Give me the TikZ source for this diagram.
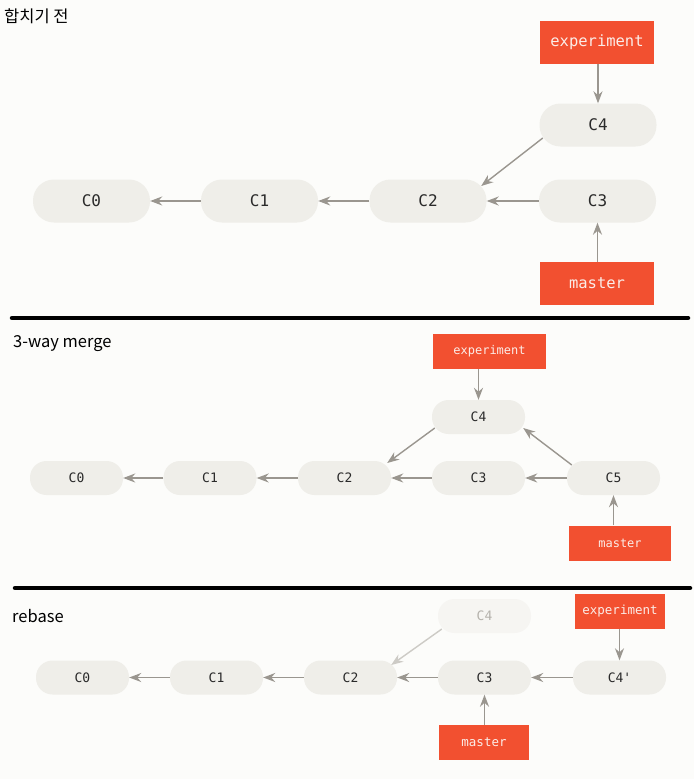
\documentclass[tikz,border=0pt]{standalone}
\usepackage{fontspec}
\setmonofont{DejaVu Sans Mono}
\newfontfamily\kr{Noto Sans CJK KR}
\usetikzlibrary{arrows.meta}
\definecolor{cfill}{HTML}{EFEEE9}
\definecolor{cfade}{HTML}{F6F5F2}
\definecolor{gred}{HTML}{F25030}
\definecolor{arr}{HTML}{9A968F}
\definecolor{arrfade}{HTML}{CDCBC6}
\definecolor{ctext}{HTML}{2A2A2A}
\definecolor{cfadetext}{HTML}{B5B2AC}
\definecolor{labtext}{HTML}{FBEDE8}
\definecolor{bg}{HTML}{FCFCFA}
\begin{document}
\begin{tikzpicture}[x=1pt,y=-1pt,
  commitA/.style={rectangle,rounded corners=21pt,fill=cfill,minimum width=117pt,minimum height=43pt,inner sep=0pt,text=ctext,font=\ttfamily\fontsize{16}{18}\selectfont},
  commitB/.style={rectangle,rounded corners=16.5pt,fill=cfill,minimum width=93pt,minimum height=34pt,inner sep=0pt,text=ctext,font=\ttfamily\fontsize{13}{15}\selectfont},
  fadedB/.style={commitB,fill=cfade,text=cfadetext},
  labelA/.style={rectangle,fill=gred,text=labtext,minimum width=114pt,minimum height=43pt,inner sep=0pt,font=\ttfamily\fontsize{15.5}{18}\selectfont},
  labelB/.style={rectangle,fill=gred,text=labtext,minimum height=35pt,inner sep=0pt,font=\ttfamily\fontsize{12}{15}\selectfont},
  conn/.style={draw=arr,line width=1.4pt,-{Stealth[length=12pt,width=9pt]}},
  connfade/.style={conn,draw=arrfade},
  sep/.style={line width=4.5pt,line cap=round,black},
  title/.style={anchor=west,inner sep=0pt,text=black,font=\kr\fontsize{16.5}{19}\selectfont}
]
\fill[bg] (0,0) rectangle (694,779);
\useasboundingbox (0,0) rectangle (694,779);

% ---------- panel 1 ----------
\node[title] (t1) at (4,16) {합치기 전};
\node[commitA] (C0a) at (91.5,201) {C0};
\node[commitA] (C1a) at (259.5,201) {C1};
\node[commitA] (C2a) at (428,201) {C2};
\node[commitA] (C3a) at (597.5,201) {C3};
\node[commitA] (C4a) at (598,125) {C4};
\node[labelA] (expa) at (597,42) {experiment};
\node[labelA] (masa) at (597,283.5) {master};
\draw[conn] (C1a) -- (C0a);
\draw[conn] (C2a) -- (C1a);
\draw[conn] (C3a) -- (C2a);
\draw[conn] ([shift={(3.5,13)}]C4a.west) -- ([shift={(-5.5,-15)}]C2a.east);
\draw[conn] (expa.south -| C4a) -- (C4a.north);
\draw[conn] (masa.north -| C3a) -- (C3a.south);

\draw[sep] (12,318) -- (688,318);

% ---------- panel 2 ----------
\node[title] (t2) at (13,344) {3-way merge};
\node[commitB] (C0b) at (76.5,478) {C0};
\node[commitB] (C1b) at (210,478) {C1};
\node[commitB] (C2b) at (344.5,478) {C2};
\node[commitB] (C3b) at (478.5,478) {C3};
\node[commitB] (C5b) at (613.5,478) {C5};
\node[commitB] (C4b) at (478.5,417) {C4};
\node[labelB,minimum width=113pt] (expb) at (489.5,351.5) {experiment};
\node[labelB,minimum width=102pt] (masb) at (620,543) {master};
\draw[conn] (C1b) -- (C0b);
\draw[conn] (C2b) -- (C1b);
\draw[conn] (C3b) -- (C2b);
\draw[conn] (C5b) -- (C3b);
\draw[conn] ([shift={(3,11)}]C4b.west) -- ([shift={(-4,-15)}]C2b.east);
\draw[conn] ([shift={(5,-13)}]C5b.west) -- ([shift={(-2,11)}]C4b.east);
\draw[conn] (expb.south -| C4b) -- (C4b.north);
\draw[conn] (masb.north -| C5b) -- (C5b.south);

\draw[sep] (15,588) -- (690,588);

% ---------- panel 3 ----------
\node[title] (t3) at (12,616) {rebase};
\node[commitB] (C0c) at (82.5,677.5) {C0};
\node[commitB] (C1c) at (216.5,677.5) {C1};
\node[commitB] (C2c) at (350.5,677.5) {C2};
\node[commitB] (C3c) at (484.5,677.5) {C3};
\node[commitB] (C4pc) at (619.5,677.5) {C4'};
\node[fadedB] (C4c) at (484.5,616) {C4};
\node[labelB,minimum width=90pt,font=\ttfamily\fontsize{12.5}{15}\selectfont] (expc) at (620,611.5) {experiment};
\node[labelB,minimum width=90pt,font=\ttfamily\fontsize{12.5}{15}\selectfont] (masc) at (484,742.5) {master};
\draw[conn] (C1c) -- (C0c);
\draw[conn] (C2c) -- (C1c);
\draw[conn] (C3c) -- (C2c);
\draw[conn] (C4pc) -- (C3c);
\draw[connfade] ([shift={(4,13)}]C4c.west) -- ([shift={(-6,-12.5)}]C2c.east);
\draw[conn] (expc.south -| C4pc) -- (C4pc.north);
\draw[conn] (masc.north -| C3c) -- (C3c.south);
\end{tikzpicture}
\end{document}
